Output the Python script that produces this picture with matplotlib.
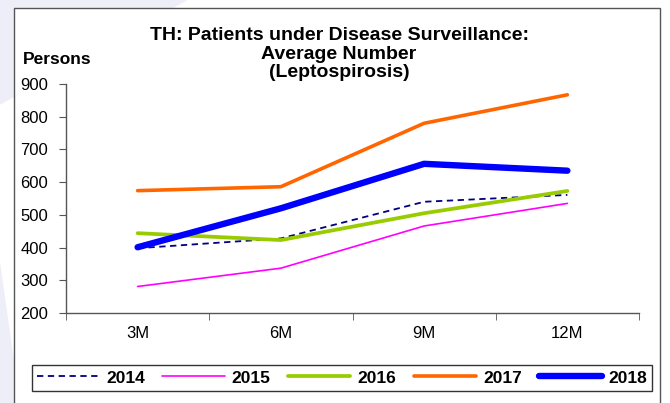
import matplotlib.pyplot as plt
from matplotlib.patches import Rectangle, Polygon

plt.rcParams["font.family"] = ["Liberation Sans", "DejaVu Sans"]

periods = ["3M", "6M", "9M", "12M"]
years = ["2014", "2015", "2016", "2017", "2018"]
patients_2014 = [398, 428, 540, 561]
patients_2015 = [281, 337, 466, 535]
patients_2016 = [444, 423, 505, 573]
patients_2017 = [574, 586, 780, 867]
patients_2018 = [401, 520, 656, 635]

series = [patients_2014, patients_2015, patients_2016, patients_2017, patients_2018]
styles = [
    dict(color="#000080", lw=1.3, ls=(0, (3.5, 2.5))),
    dict(color="#FF00FF", lw=1.2, ls="-"),
    dict(color="#99CC00", lw=2.7, ls="-"),
    dict(color="#FF6600", lw=2.6, ls="-"),
    dict(color="#0000FF", lw=4.6, ls="-"),
]

fig = plt.figure(figsize=(6.7, 4.03), dpi=100)
fig.patch.set_facecolor("white")

# faint decorative wedges behind the frame
fig.patches.append(Polygon([(0, 1), (0.28, 1), (0, 0.74)], closed=True,
                           transform=fig.transFigure, facecolor="#EEEEF8",
                           edgecolor="none", zorder=0))
fig.patches.append(Polygon([(0, 0), (0, 0.35), (0.03, 0.0)], closed=True,
                           transform=fig.transFigure, facecolor="#EEEEF8",
                           edgecolor="none", zorder=0))
# chart frame
fig.patches.append(Rectangle((14 / 670, -0.05), (660 - 14) / 670, 1.05 - 8 / 403,
                             transform=fig.transFigure, facecolor="white",
                             edgecolor="#555555", lw=1.0, zorder=1))

ax = fig.add_axes([66 / 670, 1 - 313 / 403, (639 - 66) / 670, (313 - 84) / 403])
ax.set_facecolor("none")
ax.set_zorder(2)

x = range(len(periods))
for label, values, st in zip(years, series, styles):
    ax.plot(x, values, label=label, solid_capstyle="round",
            dash_capstyle="butt", **st)

ax.set_xlim(-0.5, len(periods) - 0.5)
ax.set_ylim(200, 900)
ax.set_yticks(range(200, 901, 100))
ax.set_xticks(list(x))
ax.set_xticklabels(periods)
ax.set_xticks([i + 0.5 for i in range(-1, len(periods))], minor=True)
ax.tick_params(axis="x", which="major", length=0, pad=9, labelsize=12)
ax.tick_params(axis="x", which="minor", length=5, direction="out", color="#555555")
ax.tick_params(axis="y", length=5, direction="out", color="#555555",
               labelsize=12, pad=8)

for side in ("top", "right"):
    ax.spines[side].set_visible(False)
for side in ("left", "bottom"):
    ax.spines[side].set_color("#555555")
    ax.spines[side].set_linewidth(1.0)

fig.text(0.506, 1 - 27 / 403,
         "TH: Patients under Disease Surveillance:\nAverage Number\n(Leptospirosis)",
         ha="center", va="top", fontsize=14, fontweight="bold", linespacing=1.12)
fig.text(23 / 670, 1 - 60 / 403, "Persons", ha="left", va="center",
         fontsize=12.5, fontweight="bold")

leg = fig.legend(loc="center", bbox_to_anchor=(342 / 670, 1 - 378 / 403),
                 ncol=5, frameon=True, fancybox=False, handlelength=3.6,
                 handletextpad=0.4, columnspacing=1.0, borderpad=0.3,
                 borderaxespad=0, prop={"weight": "bold", "size": 12.5})
leg.get_frame().set_edgecolor("black")
leg.get_frame().set_linewidth(1.0)
leg.set_zorder(3)

fig.savefig("out.png", dpi=100)
